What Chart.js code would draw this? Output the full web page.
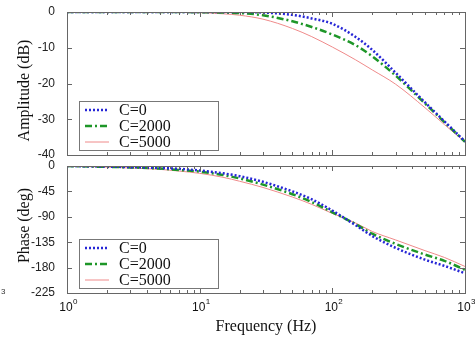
<!DOCTYPE html>
<html>
<head>
<meta charset="utf-8">
<script src="https://cdn.jsdelivr.net/npm/chart.js@4.4.1/dist/chart.umd.min.js"></script>
<style>
  html, body { margin: 0; padding: 0; background: #fff; }
  #wrap { position: relative; width: 475px; height: 337px; overflow: hidden; }
  canvas { position: absolute; left: 0; }
  #amp { top: 0; }
  #phase { top: 150px; }
  #stray { position: absolute; left: 1px; top: 287px; font: 8px 'Liberation Sans', sans-serif; color: #333; }
</style>
</head>
<body>
<div id="wrap">
  <canvas id="amp" width="475" height="170" style="width:475px;height:170px"></canvas>
  <canvas id="phase" width="475" height="187" style="width:475px;height:187px"></canvas>
  <div id="stray">3</div>
</div>
<script>
// frequency points (Hz)
const freq = [1, 2, 3, 5, 7, 10, 15, 20, 30, 50, 70, 100, 150, 200, 300, 500, 700, 1000];

// amplitude (dB)
const ampC0    = [0, 0, 0, 0, 0, 0, 0, 0, -0.15, -0.8, -1.8, -3.3, -7.0, -10.6, -17.0, -25.3, -30.6, -36.2];
const ampC2000 = [0, 0, 0, 0, -0.02, -0.05, -0.15, -0.3, -0.9, -2.6, -4.2, -6.3, -9.3, -12.4, -17.8, -25.6, -30.8, -36.3];
const ampC5000 = [0, 0, 0, -0.05, -0.1, -0.2, -0.5, -0.9, -2.0, -4.6, -6.9, -9.8, -13.4, -16.2, -20.2, -26.8, -31.5, -36.4];

// phase (deg)
const phC0    = [0, -1, -2, -3.5, -5, -8, -13, -18, -28, -45, -59, -79, -105, -124, -145, -166, -177, -190];
const phC2000 = [0, -1.5, -2.5, -4.5, -7, -10, -16, -22, -33, -50, -64, -82, -103, -120, -138, -157, -168, -184];
const phC5000 = [0, -2, -3.5, -6, -9, -13, -20, -27, -38, -55, -68, -84, -101, -116, -131, -150, -162, -178];

const seriesNames = ['C=0', 'C=2000', 'C=5000'];
const ampTicks = [0, -10, -20, -30, -40];
const phaseTicks = [0, -45, -90, -135, -180, -225];
const decades = [1, 10, 100, 1000];
const decadeExp = ['0', '1', '2', '3'];

const styles = [
  { color: '#2626d6', width: 2.5, dash: [2, 2] },
  { color: '#1e9628', width: 2.5, dash: [7, 3, 2, 3] },
  { color: '#ef8a8a', width: 1, dash: [] }
];

const toXY = (ys) => freq.map((f, i) => ({ x: f, y: ys[i] }));

function makeDatasets(list) {
  return list.map((ys, i) => ({
    label: seriesNames[i],
    data: toXY(ys),
    borderColor: styles[i].color,
    borderWidth: styles[i].width,
    borderDash: styles[i].dash,
    pointRadius: 0,
    fill: false,
    cubicInterpolationMode: 'monotone'
  }));
}

// frame, inward ticks, inside legend, axis titles
const framePlugin = {
  id: 'frame',
  afterDraw(chart, args, opts) {
    const ctx = chart.ctx;
    const a = chart.chartArea;
    const xs = chart.scales.x, ys = chart.scales.y;
    ctx.save();
    ctx.strokeStyle = '#666';
    ctx.lineWidth = 1;
    ctx.setLineDash([]);
    ctx.strokeRect(Math.round(a.left) + 0.5, Math.round(a.top) + 0.5,
      Math.round(a.right - a.left), Math.round(a.bottom - a.top));

    // log ticks
    ctx.beginPath();
    decades.slice(0, 3).forEach(d => {
      for (let m = 1; m <= 9; m++) {
        const px = Math.round(xs.getPixelForValue(d * m)) + 0.5;
        const len = m === 1 ? 5 : 3;
        ctx.moveTo(px, a.bottom); ctx.lineTo(px, a.bottom - len);
        ctx.moveTo(px, a.top); ctx.lineTo(px, a.top + len);
      }
    });
    opts.ticks.forEach(t => {
      const py = Math.round(ys.getPixelForValue(t)) + 0.5;
      ctx.moveTo(a.left, py); ctx.lineTo(a.left + 5, py);
      ctx.moveTo(a.right, py); ctx.lineTo(a.right - 5, py);
    });
    ctx.stroke();

    // legend
    const bx = a.left + 12, bw = 139, bh = 49, by = a.bottom - 5 - bh;
    ctx.fillStyle = '#fff';
    ctx.fillRect(bx, by, bw, bh);
    ctx.strokeStyle = '#777';
    ctx.strokeRect(bx + 0.5, by + 0.5, bw, bh);
    ctx.font = '16px "Liberation Serif", serif';
    ctx.textBaseline = 'middle';
    ctx.textAlign = 'left';
    chart.data.datasets.forEach((ds, i) => {
      const ry = by + 9 + i * 16;
      ctx.beginPath();
      ctx.strokeStyle = ds.borderColor;
      ctx.lineWidth = ds.borderWidth;
      ctx.setLineDash(ds.borderDash);
      ctx.moveTo(bx + 6, ry); ctx.lineTo(bx + 30, ry);
      ctx.stroke();
      ctx.fillStyle = '#111';
      ctx.fillText(ds.label, bx + 40, ry + 1);
    });
    ctx.setLineDash([]);

    // y title
    ctx.fillStyle = '#111';
    ctx.save();
    ctx.translate(25, (a.top + a.bottom) / 2 + opts.titleShift);
    ctx.rotate(-Math.PI / 2);
    ctx.textAlign = 'center';
    ctx.fillText(opts.yTitle, 0, 0);
    ctx.restore();

    // x labels and title
    if (opts.xLabels) {
      ctx.textBaseline = 'middle';
      decades.forEach((d, i) => {
        const px = xs.getPixelForValue(d);
        ctx.font = '12px "Liberation Sans", sans-serif';
        ctx.textAlign = 'center';
        ctx.fillText('10', px - 1, a.bottom + 15);
        ctx.font = '8px "Liberation Sans", sans-serif';
        ctx.textAlign = 'left';
        ctx.fillText(decadeExp[i], px + 6, a.bottom + 9);
      });
      ctx.font = '16px "Liberation Serif", serif';
      ctx.textAlign = 'center';
      ctx.fillText('Frequency (Hz)', (a.left + a.right) / 2, a.bottom + 34);
    }
    ctx.restore();
  }
};

function makeChart(id, datasets, yTicks, yTitle, padTop, xHeight, xLabels, titleShift) {
  return new Chart(document.getElementById(id), {
    type: 'line',
    data: { datasets },
    plugins: [framePlugin],
    options: {
      responsive: false,
      animation: false,
      layout: { padding: { top: padTop, right: 10, left: 0, bottom: 0 } },
      scales: {
        x: {
          type: 'logarithmic',
          min: 1,
          max: 1000,
          grid: { display: false },
          border: { display: false },
          ticks: { display: false },
          afterFit: s => { s.height = xHeight; }
        },
        y: {
          min: yTicks[yTicks.length - 1],
          max: yTicks[0],
          afterBuildTicks: s => { s.ticks = yTicks.map(v => ({ value: v })); },
          grid: { display: false },
          border: { display: false },
          ticks: {
            color: '#222',
            padding: 4,
            font: { family: '"Liberation Sans", sans-serif', size: 12 }
          },
          afterFit: s => { s.width = 67; }
        }
      },
      plugins: {
        legend: { display: false },
        tooltip: { enabled: false },
        frame: { ticks: yTicks, yTitle, xLabels, titleShift }
      }
    }
  });
}

makeChart('amp', makeDatasets([ampC0, ampC2000, ampC5000]), ampTicks, 'Amplitude (dB)', 12, 15, false, 7);
makeChart('phase', makeDatasets([phC0, phC2000, phC5000]), phaseTicks, 'Phase (deg)', 16, 44, true, -4);
</script>
</body>
</html>
